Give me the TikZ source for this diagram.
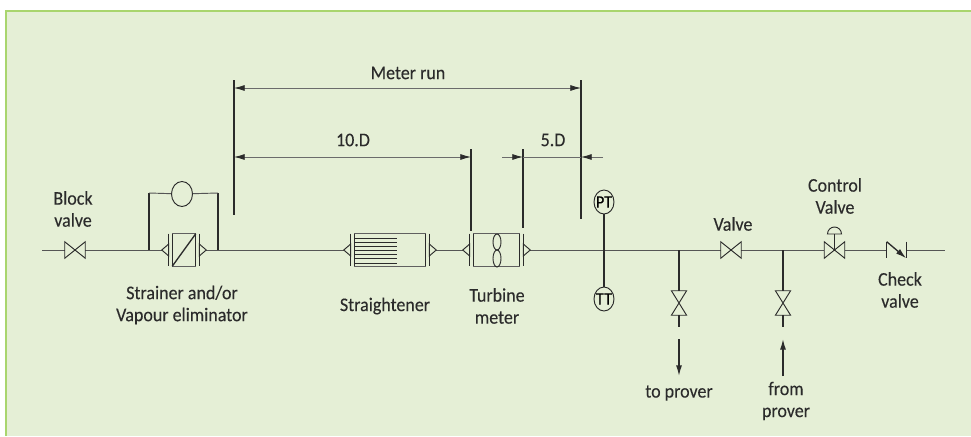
\documentclass[tikz,border=0pt]{standalone}
\usepackage{fontspec}
\setmainfont[FakeStretch=0.93,FakeBold=0.12]{Carlito}
\usetikzlibrary{arrows.meta,shapes.geometric}
\definecolor{panelgreen}{HTML}{E5EFD6}
\definecolor{framegreen}{HTML}{A9D56E}
\definecolor{inkgrey}{HTML}{2B2B2B}
\tikzset{
  pipe/.style={draw=inkgrey!80, line width=0.7pt},
  branch/.style={draw=inkgrey, line width=1pt},
  tickline/.style={draw=inkgrey, line width=1.1pt},
  dimline/.style={draw=inkgrey!70, line width=0.6pt},
  dimtip/.tip={Latex[length=8pt,width=4.5pt,color=inkgrey]},
  tip/.style={-dimtip},
  symline/.style={draw=inkgrey, line width=0.7pt},
  flange/.style={draw=inkgrey, line width=1pt},
  hvalve/.style={minimum width=15pt, minimum height=12pt, inner sep=0pt},
  vvalve/.style={minimum width=11pt, minimum height=18pt, inner sep=0pt},
  unitbox/.style={minimum height=24pt, inner sep=0pt},
  gauge/.style={ellipse, draw=inkgrey, line width=0.7pt, minimum width=15pt, minimum height=18pt, inner sep=0pt, font=\fontsize{13}{14}\selectfont},
  caption/.style={text=inkgrey, align=center, inner sep=0pt, font=\fontsize{14.5}{16.5}\selectfont}
}
\begin{document}
\begin{tikzpicture}[x=0.75pt, y=0.75pt]
    \useasboundingbox (0,0) rectangle (971,-436);

    % Panel
    \fill[white] (0,0) rectangle (971,-436);
    \fill[panelgreen] (6,-11) rectangle (971,-436);
    \fill[framegreen] (5,-10) rectangle (971,-11.5);
    \fill[framegreen] (5,-10) rectangle (7,-436);

    % Points on the pipe
    \coordinate (pipestart) at (42,-250);
    \coordinate (pipeend) at (945,-250);
    \coordinate (bypassleft) at (149,-250);
    \coordinate (bypassright) at (218,-250);
    \coordinate (teeprover) at (679,-250);
    \coordinate (teefrom) at (783,-250);

    % Valves and units
    \node[hvalve] (blockvalve) at (75,-250) {};
    \node[unitbox, minimum width=33pt] (strainer) at (184,-250) {};
    \node[unitbox, minimum width=69pt] (straightener) at (390,-250) {};
    \node[unitbox, minimum width=50.25pt] (turbine) at (496.5,-250) {};
    \node[gauge] (pt) at (604,-202) {\makebox[0pt]{PT}};
    \node[gauge] (tt) at (604,-299) {\makebox[0pt]{TT}};
    \node[hvalve] (linevalve) at (731,-250) {};
    \node[hvalve] (controlvalve) at (834.5,-250) {};
    \node[minimum width=14.25pt, minimum height=12pt, inner sep=0pt] (checkvalve) at (896.5,-250) {};
    \node[vvalve] (provervalve) at (679,-303) {};
    \node[vvalve] (fromvalve) at (783,-303) {};
    \node[ellipse, draw=inkgrey, line width=0.7pt, minimum width=15.75pt, minimum height=18.75pt, inner sep=0pt] (bypassmeter) at (182,-194) {};

    % Pipe run
    \draw[pipe] (pipestart) -- (blockvalve);
    \draw[pipe] (blockvalve) -- (strainer);
    \draw[pipe] (strainer) -- (straightener);
    \draw[pipe] (straightener) -- (turbine);
    \draw[pipe] (turbine) -- (linevalve);
    \draw[pipe] (linevalve) -- (controlvalve);
    \draw[pipe] (controlvalve) -- (checkvalve);
    \draw[pipe] (checkvalve) -- (pipeend);

    % Bypass
    \draw[branch] (bypassleft) -- ++(0,57) coordinate (bypasscornerl);
    \draw[branch] (bypassright) -- ++(0,57) coordinate (bypasscornerr);
    \draw[pipe] (bypasscornerl) -- (bypassmeter);
    \draw[pipe] (bypasscornerr) -- (bypassmeter);

    % Valve bodies
    \foreach \n in {blockvalve,linevalve,controlvalve}
      \draw[symline] (\n.north west) -- (\n.south east) -- (\n.north east) -- (\n.south west) -- cycle;
    \foreach \n in {provervalve,fromvalve}
      \draw[symline] (\n.north west) -- (\n.south east) -- (\n.south west) -- (\n.north east) -- cycle;

    % Units with flanges
    \foreach \n in {strainer,straightener,turbine} {
      \draw[symline, draw=inkgrey!75] ([shift={(10.5,0)}]\n.north west) rectangle ([shift={(-10.5,0)}]\n.south east);
      \draw[flange] ([shift={(7,0)}]\n.north west) -- ([shift={(7,0)}]\n.south west);
      \draw[flange] ([shift={(10.5,0)}]\n.north west) -- ([shift={(10.5,0)}]\n.south west);
      \draw[flange] ([shift={(-7,0)}]\n.north east) -- ([shift={(-7,0)}]\n.south east);
      \draw[flange] ([shift={(-10.5,0)}]\n.north east) -- ([shift={(-10.5,0)}]\n.south east);
      \draw[symline] (\n.west) -- ([shift={(7,6)}]\n.west) -- ([shift={(7,-6)}]\n.west) -- cycle;
      \draw[symline] (\n.east) -- ([shift={(-7,6)}]\n.east) -- ([shift={(-7,-6)}]\n.east) -- cycle;
    }
    \draw[flange] ([shift={(10.5,0)}]strainer.south west) -- ([shift={(-10.5,0)}]strainer.north east);
    \foreach \y in {-238,-242,-246,-250,-254,-258,-263}
      \draw[symline, line width=0.5pt] (354,\y) -- (397,\y);
    \draw[symline] (497,-242) ellipse (4 and 8);
    \draw[symline] (497,-258.5) ellipse (4 and 8.5);

    % Control valve actuator
    \coordinate (actuator) at (834.5,-234);
    \draw[symline] (controlvalve.center) -- (actuator);
    \draw[symline] ([shift={(-7,0)}]actuator) arc (180:0:7) -- cycle;

    % Check valve
    \draw[flange] (checkvalve.north west) -- (checkvalve.south west);
    \draw[flange] (checkvalve.north east) -- (checkvalve.south east);
    \draw[symline, tip, line width=1pt] (checkvalve.north west) -- (checkvalve.south east);

    % Transmitter link
    \draw[branch] (pt) -- (tt);

    % Prover branches
    \draw[branch] (teeprover) -- (provervalve);
    \draw[branch, line width=1.5pt] (teefrom) -- (fromvalve);
    \coordinate (proverstub) at (679,-327);
    \coordinate (fromstub) at (783,-327);
    \draw[branch] (provervalve) -- (proverstub);
    \draw[branch] (fromvalve) -- (fromstub);
    \coordinate (proverarrowa) at (679,-339);
    \coordinate (proverarrowb) at (679,-376);
    \coordinate (fromarrowa) at (783,-376);
    \coordinate (fromarrowb) at (783,-339);
    \draw[branch, tip] (proverarrowa) -- (proverarrowb);
    \draw[branch, tip] (fromarrowa) -- (fromarrowb);

    % Extension lines
    \coordinate (runlefttop) at (234,-80);
    \coordinate (runleftlow) at (234,-215);
    \coordinate (runrighttop) at (581,-80);
    \coordinate (runrightlow) at (581,-219);
    \coordinate (tenrighttop) at (471,-149);
    \coordinate (tenrightlow) at (471,-231);
    \coordinate (fivelefttop) at (523,-149);
    \coordinate (fiveleftlow) at (523,-228);
    \draw[tickline] (runlefttop) -- (runleftlow);
    \draw[tickline] (runrighttop) -- (runrightlow);
    \draw[tickline] (tenrighttop) -- (tenrightlow);
    \draw[tickline] (fivelefttop) -- (fiveleftlow);

    % Dimensions
    \coordinate (runa) at (234,-88);
    \coordinate (runb) at (581,-88);
    \coordinate (tena) at (234,-157);
    \coordinate (tenb) at (471,-157);
    \coordinate (fivefreel) at (502,-157);
    \coordinate (fivea) at (523,-157);
    \coordinate (fiveb) at (581,-157);
    \coordinate (fivefreer) at (603,-157);
    \draw[dimline, dimtip-dimtip] (runa) -- (runb);
    \draw[dimline, dimtip-dimtip] (tena) -- (tenb);
    \draw[dimline, tip] (fivefreel) -- (fivea);
    \draw[dimline] (fivea) -- (fiveb);
    \draw[dimline, tip] (fivefreer) -- (fiveb);

    % Labels
    \node[caption] (lblblock) at (73,-209) {Block\\valve};
    \node[caption] (lblstrainer) at (182,-305) {Strainer and/or\\Vapour eliminator};
    \node[caption] (lblrun) at (408,-73) {Meter run};
    \node[caption] (lblten) at (353,-140) {10.D};
    \node[caption] (lblfive) at (553,-140) {5.D};
    \node[caption] (lblstraight) at (385,-306) {Straightener};
    \node[caption] (lblturbine) at (497,-306) {Turbine\\meter};
    \node[caption] (lblto) at (679,-393) {to prover};
    \node[caption] (lblfrom) at (786,-401) {from\\prover};
    \node[caption] (lblvalve) at (733,-224) {Valve};
    \node[caption] (lblcontrol) at (835,-196) {Control\\Valve};
    \node[caption] (lblcheck) at (900,-290) {Check\\valve};
\end{tikzpicture}
\end{document}
